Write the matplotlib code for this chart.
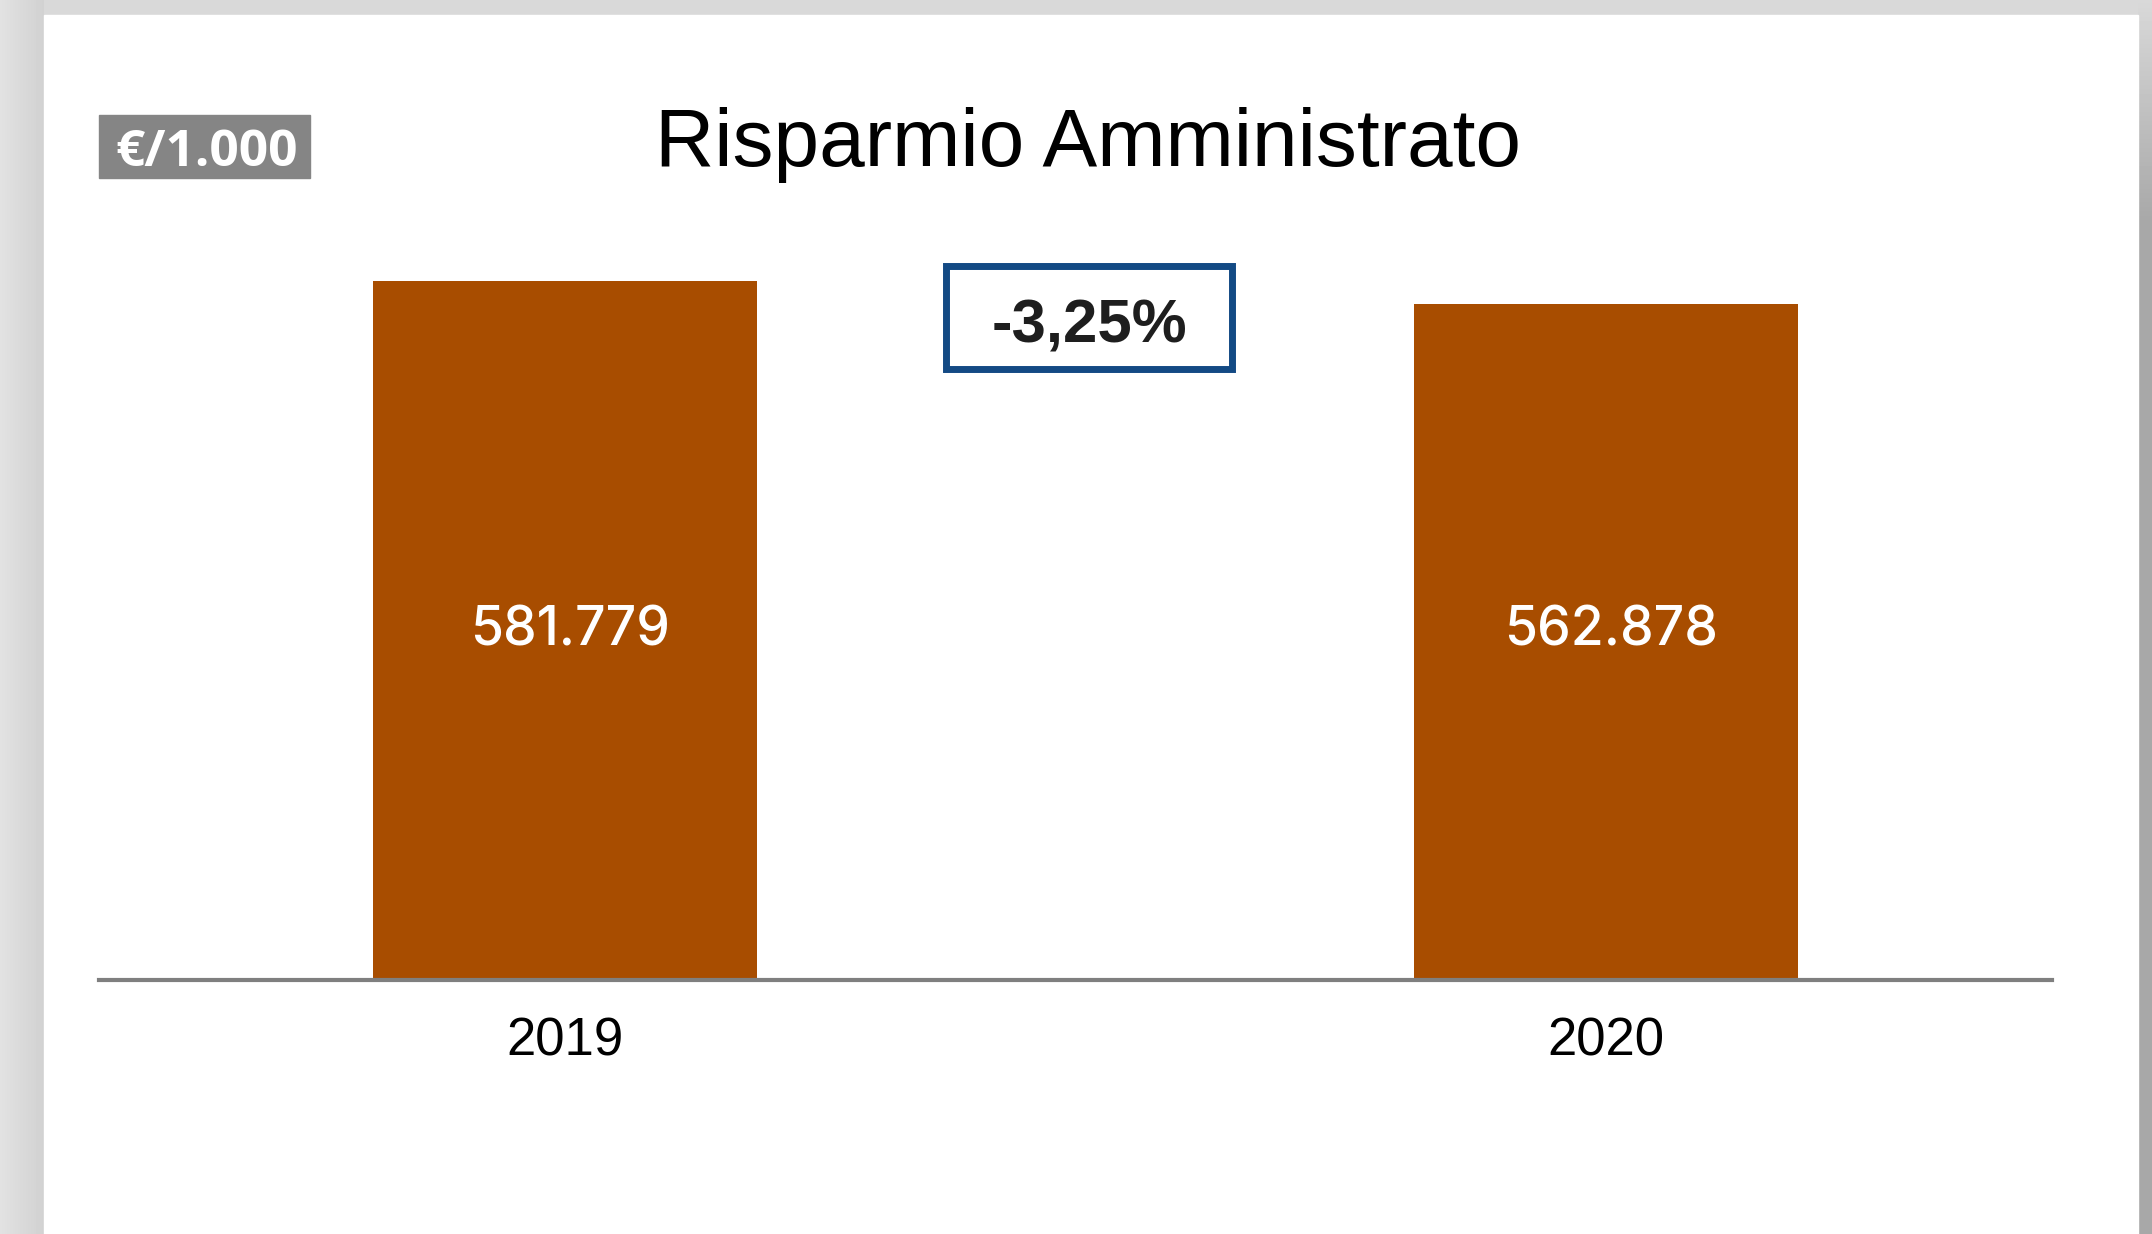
import numpy as np
import matplotlib
matplotlib.use('Agg')
import matplotlib.pyplot as plt
from matplotlib.patches import Rectangle

years = ['2019', '2020']
values = [581.779, 562.878]
value_labels = ['581.779', '562.878']
change_label = '-3,25%'
unit_label = '€/1.000'
title = 'Risparmio Amministrato'

W, H = 2152, 1234
fig = plt.figure(figsize=(W / 100, H / 100), dpi=100)

# gray frame around the white card (pixel coordinates, y down)
bg = fig.add_axes([0, 0, 1, 1])
img = np.full((H, W), 0.85)
img[:, :44] = 0.885 - 0.065 * np.arange(44) / 44
img[:, 2138:] = (0.85 - 0.19 * np.clip(np.arange(H) / 220, 0, 1))[:, None]
bg.imshow(img, cmap='gray', vmin=0, vmax=1, aspect='auto',
          extent=(0, W, H, 0), interpolation='nearest')
bg.add_patch(Rectangle((44, 15), 2138 - 44, H - 15, color='white'))
bg.set_xlim(0, W)
bg.set_ylim(H, 0)
bg.axis('off')

# title
bg.text(1088, 166, title, ha='center', va='baseline', fontsize=59,
        family='Liberation Sans', color='black')

# unit badge
bg.add_patch(Rectangle((99, 115), 211, 63, color='#858585'))
bg.text(207, 166, unit_label, ha='center', va='baseline', fontsize=37,
        family='Open Sans', weight='bold', color='white')

# change box
bg.add_patch(Rectangle((946, 266), 286, 103, facecolor='white',
                       edgecolor='#134a84', lw=5))
bg.text(1089, 343, change_label, ha='center', va='baseline', fontsize=44.5,
        family='Liberation Sans', weight='bold', color='#1e1e1e')

# bars
ax = fig.add_axes([99 / W, 1 - 980 / H, (2052 - 99) / W, (980 - 200) / H])
ax.patch.set_alpha(0)
x = np.arange(len(years))
ax.bar(x, values, width=0.368, color='#a84d00')
ax.set_xlim(-0.4476, 1.4284)
ax.set_ylim(0, 780 / 1.2015)

for xi, lab in zip(x, value_labels):
    ax.text(xi + 0.005, (980 - 645) / 1.2015, lab, ha='center', va='baseline',
            fontsize=38.5, family='Inter', weight=500, color='white')

for s in ['top', 'right', 'left']:
    ax.spines[s].set_visible(False)
ax.spines['bottom'].set_color('#7f7f7f')
ax.spines['bottom'].set_linewidth(3)
ax.set_yticks([])
ax.set_xticks(x)
ax.set_xticklabels(years, fontsize=38, family='Liberation Sans')
ax.tick_params(axis='x', length=0, pad=26)

fig.savefig('out.png', dpi=100)
